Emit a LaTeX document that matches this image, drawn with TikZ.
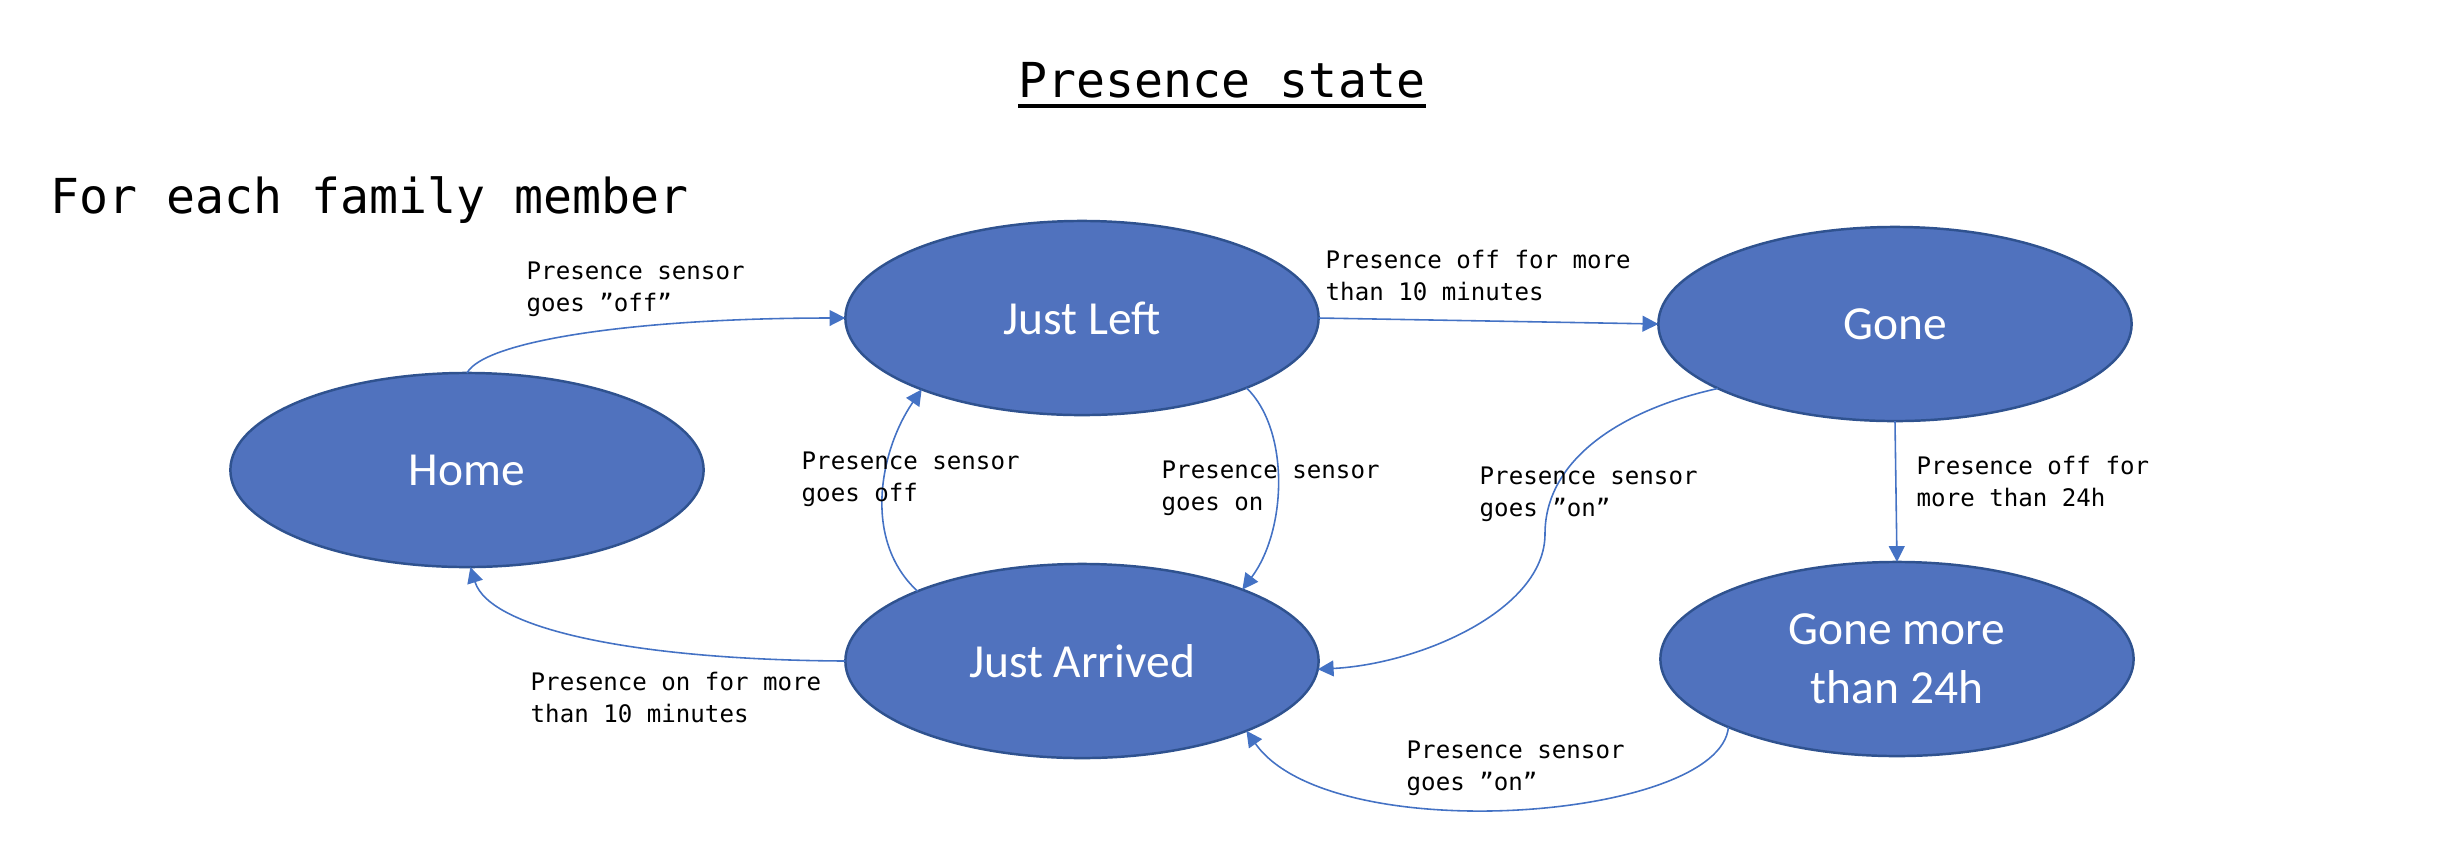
\documentclass[tikz,border=0pt]{standalone}
\usepackage{fontspec}
\setmainfont{Carlito}
\newfontfamily\monofnt{DejaVu Sans Mono}
\usetikzlibrary{arrows.meta,shapes.geometric,calc}
\definecolor{stfill}{RGB}{80,114,190}
\definecolor{stborder}{RGB}{47,82,143}
\definecolor{conn}{RGB}{68,114,196}
\newcommand{\twol}[2]{\begin{tabular}[t]{@{}l@{}}#1\\#2\end{tabular}}
\begin{document}
\begin{tikzpicture}[x=0.01cm,y=-0.01cm,
  state/.style={ellipse,draw=stborder,line width=0.7pt,fill=stfill,
    minimum width=4.73cm,minimum height=1.94cm,inner sep=0pt,outer sep=0pt,
    text=white,font=\fontsize{13.5}{16.8}\selectfont,align=center},
  lbl/.style={anchor=base west,inner sep=0pt,font=\monofnt\fontsize{6.86}{9.1}\selectfont},
  bigtxt/.style={inner sep=0pt,font=\monofnt\fontsize{13.7}{16}\selectfont},
  trans/.style={draw=conn,line width=0.45pt,-{Triangle[length=4.5pt,width=4.5pt]}}]
\useasboundingbox (0,0) rectangle (2456,844);

\node[bigtxt,anchor=base] (title) at (1222,97) {Presence state};
\draw[line width=1.1pt] ($(title.base west)+(0,9)$) -- ($(title.base east)+(0,9)$);
\node[bigtxt,anchor=base west] (fam) at (50,213) {For each family member};

\node[state] (home) at (467,470) {Home};
\node[state] (jl) at (1082,318) {Just Left};
\node[state] (gone) at (1895,324) {Gone};
\node[state] (ja) at (1082,661) {Just Arrived};
\node[state] (gm) at (1897,659) {Gone more\\than 24h};

\draw[trans] (home.north) .. controls (485,340) and (640,318) .. (jl.west);
\draw[trans] (jl.east) -- (gone.west);
\draw[trans] (jl.337) .. controls (1290,430) and (1287,530) .. (ja.24);
\draw[trans] (ja.157) .. controls (862,540) and (880,450) .. (jl.204);
\draw[trans] (ja.west) .. controls (640,660) and (490,630) .. (home.272);
\draw[trans] (gone.200) .. controls (1620,410) and (1545,460) .. (1545,534)
   .. controls (1545,610) and (1420,664) .. (ja.358);
\draw[trans] (gone.south) -- (gm.north);
\draw[trans] (gm.202) .. controls (1720,820) and (1330,850) .. (ja.337);

\node[lbl] (l1) at (526,279) {\twol{Presence sensor}{goes ”off”}};
\node[lbl] (l2) at (1325,268) {\twol{Presence off for more}{than 10 minutes}};
\node[lbl] (l3) at (801,469) {\twol{Presence sensor}{goes off}};
\node[lbl] (l4) at (1161,478) {\twol{Presence sensor}{goes on}};
\node[lbl] (l5) at (1479,484) {\twol{Presence sensor}{goes ”on”}};
\node[lbl] (l6) at (1916,474) {\twol{Presence off for}{more than 24h}};
\node[lbl] (l7) at (530,690) {\twol{Presence on for more}{than 10 minutes}};
\node[lbl] (l8) at (1406,758) {\twol{Presence sensor}{goes ”on”}};
\end{tikzpicture}
\end{document}
